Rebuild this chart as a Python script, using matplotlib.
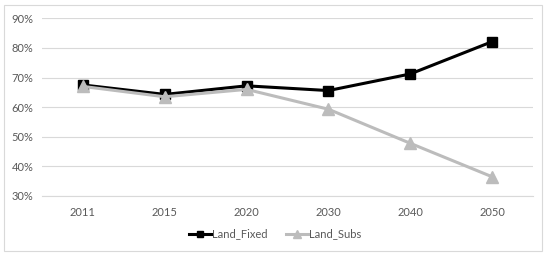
import matplotlib.pyplot as plt
import matplotlib.patches as mpatches
from matplotlib.ticker import PercentFormatter

years = ['2011', '2015', '2020', '2030', '2040', '2050']
land_fixed = [67.5, 64.3, 67.2, 65.6, 71.2, 82.1]
land_subs = [67.0, 63.5, 66.0, 59.3, 47.8, 36.5]
y_ticks = [30, 40, 50, 60, 70, 80, 90]

plt.rcParams['font.family'] = ['Lato', 'DejaVu Sans']
text_color = '#595959'

fig = plt.figure(figsize=(5.5, 2.56), dpi=100)
ax = fig.add_axes([0.0764, 0.2344, 0.8926, 0.6941])

# chart area frame
fig.patches.append(mpatches.Rectangle((4 / 550, 1 - 251 / 256), 538 / 550, 246 / 256,
                                      transform=fig.transFigure, fill=False,
                                      edgecolor='#d9d9d9', linewidth=0.8))

x = range(len(years))
# second series sits on top, as in the source spreadsheet chart
ax.plot(x, land_fixed, color='black', linewidth=2.2, marker='s', markersize=7.5,
        label='Land_Fixed', zorder=2)
ax.plot(x, land_subs, color='#bcbcbc', linewidth=2.2, marker='^', markersize=8.5,
        label='Land_Subs', zorder=3)

ax.set_xlim(-0.5, len(years) - 0.5)
ax.set_ylim(30, 90)
ax.set_yticks(y_ticks)
ax.yaxis.set_major_formatter(PercentFormatter(decimals=0))
ax.set_xticks(list(x))
ax.set_xticklabels(years)
ax.grid(axis='y', color='#d9d9d9', linewidth=0.8)
ax.set_axisbelow(True)
for s in ['top', 'right', 'left']:
    ax.spines[s].set_visible(False)
ax.spines['bottom'].set_color('#d9d9d9')
ax.tick_params(length=0, colors=text_color, labelsize=8)
ax.tick_params(axis='x', pad=8)
ax.tick_params(axis='y', pad=6)

fig.legend(loc='center', bbox_to_anchor=(0.5, 1 - 234 / 256), ncol=2, frameon=False,
           fontsize=8, labelcolor=text_color, handlelength=2.0, handletextpad=0.1,
           columnspacing=1.6, markerscale=0.65)

fig.savefig('out.png', dpi=100)
